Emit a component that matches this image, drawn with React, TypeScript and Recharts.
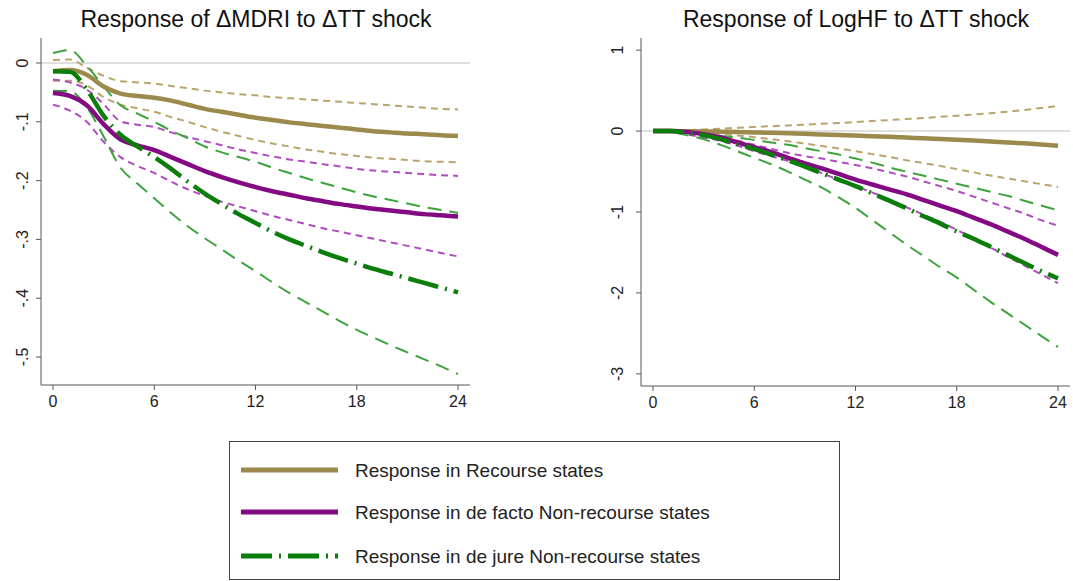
import { LineChart, Line, XAxis, YAxis, ReferenceLine } from 'recharts';

// forecast horizon (quarters after the shock)
const horizon = [0, 1, 2, 3, 4, 5, 6, 7, 8, 9, 10, 11, 12, 13, 14, 15, 16, 17, 18, 19, 20, 21, 22, 23, 24];
const xTicks = [0, 6, 12, 18, 24];

// Response of ΔMDRI
const mdriRec = [-0.014, -0.012, -0.02, -0.04, -0.052, -0.056, -0.059, -0.064, -0.071, -0.078, -0.083, -0.088, -0.093, -0.097, -0.101, -0.104, -0.107, -0.11, -0.113, -0.116, -0.118, -0.12, -0.121, -0.123, -0.124];
const mdriRecHi = [0.005, 0.006, -0.008, -0.022, -0.031, -0.033, -0.035, -0.039, -0.043, -0.047, -0.05, -0.053, -0.055, -0.058, -0.06, -0.062, -0.064, -0.066, -0.068, -0.07, -0.072, -0.074, -0.076, -0.078, -0.079];
const mdriRecLo = [-0.03, -0.03, -0.038, -0.058, -0.071, -0.077, -0.083, -0.092, -0.1, -0.109, -0.117, -0.124, -0.131, -0.137, -0.142, -0.147, -0.151, -0.155, -0.158, -0.161, -0.163, -0.165, -0.167, -0.168, -0.169];
const mdriFacto = [-0.051, -0.056, -0.072, -0.104, -0.13, -0.14, -0.148, -0.16, -0.172, -0.184, -0.194, -0.203, -0.211, -0.218, -0.224, -0.23, -0.235, -0.24, -0.244, -0.248, -0.251, -0.254, -0.257, -0.259, -0.261];
const mdriFactoHi = [-0.028, -0.033, -0.045, -0.07, -0.099, -0.105, -0.109, -0.118, -0.126, -0.133, -0.14, -0.147, -0.153, -0.159, -0.164, -0.168, -0.172, -0.176, -0.18, -0.183, -0.185, -0.187, -0.189, -0.191, -0.192];
const mdriFactoLo = [-0.071, -0.081, -0.1, -0.134, -0.16, -0.175, -0.187, -0.202, -0.215, -0.226, -0.236, -0.244, -0.252, -0.26, -0.267, -0.274, -0.281, -0.287, -0.293, -0.299, -0.305, -0.311, -0.317, -0.323, -0.329];
const mdriJure = [-0.014, -0.015, -0.045, -0.09, -0.122, -0.142, -0.16, -0.18, -0.202, -0.222, -0.24, -0.257, -0.272, -0.287, -0.3, -0.311, -0.322, -0.332, -0.341, -0.35, -0.358, -0.366, -0.374, -0.382, -0.39];
const mdriJureHi = [0.017, 0.022, -0.005, -0.04, -0.072, -0.086, -0.1, -0.115, -0.128, -0.142, -0.152, -0.16, -0.168, -0.178, -0.187, -0.196, -0.204, -0.212, -0.22, -0.227, -0.233, -0.239, -0.245, -0.25, -0.255];
const mdriJureLo = [-0.047, -0.048, -0.075, -0.125, -0.178, -0.205, -0.23, -0.255, -0.278, -0.298, -0.317, -0.336, -0.354, -0.373, -0.391, -0.407, -0.423, -0.439, -0.454, -0.467, -0.48, -0.492, -0.504, -0.516, -0.529];
const mdriTicks = [0, -0.1, -0.2, -0.3, -0.4, -0.5];

// Response of LogHF
const hfRec = [0, 0, -0.002, -0.004, -0.008, -0.012, -0.017, -0.022, -0.028, -0.034, -0.041, -0.048, -0.055, -0.063, -0.071, -0.08, -0.089, -0.098, -0.108, -0.118, -0.129, -0.14, -0.152, -0.165, -0.18];
const hfRecHi = [0, 0.005, 0.01, 0.02, 0.03, 0.04, 0.05, 0.06, 0.07, 0.08, 0.09, 0.1, 0.112, 0.124, 0.136, 0.148, 0.16, 0.175, 0.19, 0.205, 0.22, 0.24, 0.26, 0.285, 0.31];
const hfRecLo = [0, -0.003, -0.01, -0.02, -0.035, -0.055, -0.075, -0.1, -0.125, -0.155, -0.185, -0.215, -0.25, -0.285, -0.32, -0.36, -0.395, -0.43, -0.47, -0.51, -0.55, -0.585, -0.62, -0.655, -0.69];
const hfFacto = [0, 0, -0.01, -0.04, -0.08, -0.14, -0.2, -0.26, -0.33, -0.4, -0.46, -0.53, -0.6, -0.66, -0.72, -0.78, -0.85, -0.92, -0.99, -1.07, -1.15, -1.24, -1.33, -1.43, -1.53];
const hfFactoHi = [0, 0, -0.02, -0.05, -0.08, -0.12, -0.17, -0.22, -0.27, -0.31, -0.34, -0.38, -0.42, -0.46, -0.51, -0.56, -0.62, -0.68, -0.74, -0.81, -0.88, -0.95, -1.02, -1.1, -1.17];
const hfFactoLo = [0, -0.01, -0.04, -0.08, -0.12, -0.18, -0.25, -0.31, -0.37, -0.44, -0.52, -0.6, -0.68, -0.76, -0.85, -0.94, -1.03, -1.12, -1.22, -1.33, -1.44, -1.55, -1.66, -1.77, -1.88];
const hfJure = [0, 0, -0.02, -0.05, -0.1, -0.16, -0.22, -0.29, -0.36, -0.44, -0.52, -0.6, -0.68, -0.77, -0.86, -0.95, -1.05, -1.14, -1.24, -1.33, -1.43, -1.53, -1.63, -1.73, -1.82];
const hfJureHi = [0, 0, -0.01, -0.03, -0.06, -0.08, -0.11, -0.14, -0.17, -0.21, -0.25, -0.29, -0.34, -0.39, -0.45, -0.5, -0.55, -0.6, -0.65, -0.7, -0.75, -0.8, -0.86, -0.92, -0.98];
const hfJureLo = [0, -0.01, -0.05, -0.1, -0.17, -0.25, -0.33, -0.41, -0.5, -0.6, -0.7, -0.82, -0.95, -1.1, -1.25, -1.4, -1.54, -1.68, -1.81, -1.96, -2.11, -2.25, -2.39, -2.53, -2.67];
const hfTicks = [1, 0, -1, -2, -3];

const legendLabels = [
  'Response in Recourse states',
  'Response in de facto Non-recourse states',
  'Response in de jure Non-recourse states',
];

const TAN = '#9c8a4c';
const TAN_CI = '#b9a46c';
const PURPLE = '#840a84';
const PURPLE_CI = '#b04cc0';
const GREEN = '#0a7d0a';
const GREEN_CI = '#3da33d';
const FONT = '"Liberation Sans", Arial, Helvetica, sans-serif';
const AXIS = '#555';

type Row = Record<string, number>;

function buildRows(s: number[][]): Row[] {
  return horizon.map((h, i) => ({
    h,
    recLo: s[0][i], recHi: s[1][i], factoLo: s[2][i], factoHi: s[3][i],
    jureLo: s[4][i], jureHi: s[5][i], rec: s[6][i], facto: s[7][i], jure: s[8][i],
  }));
}

const mdriRows = buildRows([mdriRecLo, mdriRecHi, mdriFactoLo, mdriFactoHi, mdriJureLo, mdriJureHi, mdriRec, mdriFacto, mdriJure]);
const hfRows = buildRows([hfRecLo, hfRecHi, hfFactoLo, hfFactoHi, hfJureLo, hfJureHi, hfRec, hfFacto, hfJure]);

const fmtTick = (v: number) => {
  if (v === 0) return '0';
  const s = String(Math.round(v * 10) / 10);
  return s.replace('0.', '.');
};

// Stata-style vertical y labels
function RotTick(shift: number) {
  return (props: any) => {
    const { x, y, payload } = props;
    const cx = x - shift;
    return (
      <text x={cx} y={y} dy="0.35em" textAnchor="middle" fontSize={16} fill="#222"
        fontFamily={FONT} transform={`rotate(-90 ${cx} ${y})`}>
        {fmtTick(payload.value)}
      </text>
    );
  };
}

function Series() {
  const ci = (key: string, color: string, dash: string) => (
    <Line key={key} dataKey={key} type="monotone" stroke={color} strokeWidth={2}
      strokeDasharray={dash} dot={false} isAnimationActive={false} />
  );
  return [
    ci('recHi', TAN_CI, '7 5'),
    ci('recLo', TAN_CI, '7 5'),
    ci('factoHi', PURPLE_CI, '7 5'),
    ci('factoLo', PURPLE_CI, '7 5'),
    ci('jureHi', GREEN_CI, '14 8'),
    ci('jureLo', GREEN_CI, '14 8'),
    <Line key="rec" dataKey="rec" type="monotone" stroke={TAN} strokeWidth={4.5}
      dot={false} isAnimationActive={false} />,
    <Line key="facto" dataKey="facto" type="monotone" stroke={PURPLE} strokeWidth={4.5}
      dot={false} isAnimationActive={false} />,
    <Line key="jure" dataKey="jure" type="monotone" stroke={GREEN} strokeWidth={4.5}
      strokeDasharray="31 7 2 7" dot={false} isAnimationActive={false} />,
  ];
}

function Panel(props: {
  rows: Row[]; width: number; left: number; yWidth: number; xHeight: number; right: number;
  domain: [number, number]; ticks: number[]; labelShift: number; title: string; titleX: number;
}) {
  const { rows, width, left, yWidth, xHeight, right, domain, ticks, labelShift, title, titleX } = props;
  return (
    <>
      <div style={{
        position: 'absolute', left: titleX - 250, top: 6, width: 500, textAlign: 'center',
        fontSize: 23, lineHeight: '26px', color: '#111', fontFamily: FONT,
      }}>{title}</div>
      <div style={{ position: 'absolute', left, top: 0 }}>
        <LineChart width={width} height={420} data={rows}
          margin={{ top: 38, right, bottom: 0, left: 0 }}>
          <XAxis dataKey="h" type="number" domain={[-0.71, 24.71]} ticks={xTicks}
            allowDataOverflow height={xHeight} tickSize={5} tickMargin={6}
            stroke={AXIS} tick={{ fontSize: 16, fill: '#222', fontFamily: FONT }} />
          <YAxis type="number" domain={domain} ticks={ticks} allowDataOverflow
            width={yWidth} tickSize={5} stroke={AXIS} tick={RotTick(labelShift)} />
          <ReferenceLine y={0} stroke="#d4d4d4" strokeWidth={1.5} />
          {Series()}
        </LineChart>
      </div>
    </>
  );
}

function LegendBox() {
  const rowsY = [28, 70, 114];
  const styles = [
    { stroke: TAN, dash: undefined },
    { stroke: PURPLE, dash: undefined },
    { stroke: GREEN, dash: '31 7 2 7' },
  ];
  return (
    <div style={{
      position: 'absolute', left: 229, top: 441, width: 611, height: 139,
      border: '1.5px solid #444', boxSizing: 'border-box', background: '#fff', fontFamily: FONT,
    }}>
      <svg width={608} height={136} style={{ position: 'absolute', left: 0, top: 0 }}>
        {legendLabels.map((lab, i) => (
          <g key={lab}>
            <line x1={11} x2={108} y1={rowsY[i]} y2={rowsY[i]} stroke={styles[i].stroke}
              strokeWidth={5} strokeDasharray={styles[i].dash} />
            <text x={125} y={rowsY[i]} dy="0.35em" fontSize={19} fill="#222" fontFamily={FONT}>{lab}</text>
          </g>
        ))}
      </svg>
    </div>
  );
}

export default function App() {
  return (
    <div style={{ position: 'absolute', left: 0, top: 0, width: 1073, height: 581, background: '#fff', overflow: 'hidden' }}>
      <Panel rows={mdriRows} width={480} left={0} yWidth={41} xHeight={35} right={10}
        domain={[-0.5476, 0.0425]} ticks={mdriTicks} labelShift={12}
        title="Response of ΔMDRI to ΔTT shock" titleX={256} />
      <Panel rows={hfRows} width={493} left={580} yWidth={61} xHeight={34} right={3}
        domain={[-3.15, 1.15]} ticks={hfTicks} labelShift={17}
        title="Response of LogHF to ΔTT shock" titleX={856} />
      <LegendBox />
    </div>
  );
}
